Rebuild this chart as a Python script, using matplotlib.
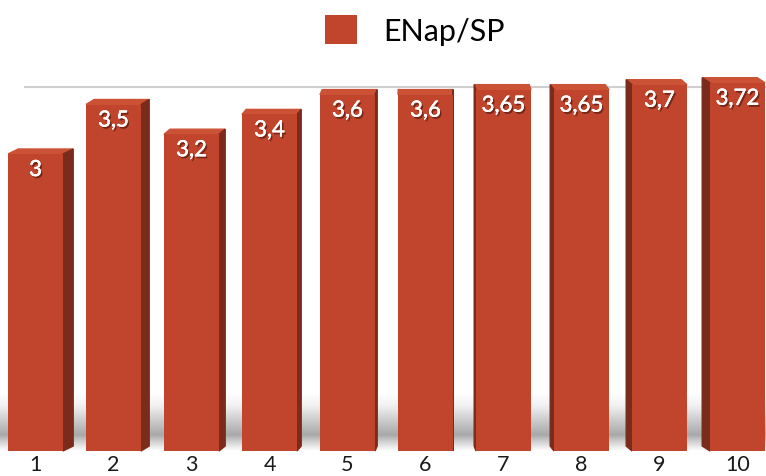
import matplotlib.patheffects as pe
import matplotlib.pyplot as plt
import numpy as np
from matplotlib.patches import Polygon

plt.rcParams["font.family"] = ["Lato", "DejaVu Sans"]

categories = ["1", "2", "3", "4", "5", "6", "7", "8", "9", "10"]
values = [3.0, 3.5, 3.2, 3.4, 3.6, 3.6, 3.65, 3.65, 3.7, 3.72]
value_labels = ["3", "3,5", "3,2", "3,4", "3,6", "3,6", "3,65", "3,65", "3,7", "3,72"]
series_name = "ENap/SP"

front_color = "#c1452c"
side_color = "#7b2b1b"
top_color = "#cc5236"

fig = plt.figure(figsize=(7.66, 4.77), dpi=100)
ax = fig.add_axes([0, 25 / 477, 1, 396 / 477])

x = np.arange(len(categories))
ax.set_xlim(-35.5 / 78, (766 - 35.5) / 78)
ax.set_ylim(0, 4)

# pixel -> data conversion for the fake 3d faces
px_x = 1 / 78
px_y = 1 / 99

# floor shadow behind the bars
stops_v = [0.0, 0.05, 0.1, 0.16, 0.3, 0.45, 0.58]
stops_g = [1.0, 0.9, 0.8, 0.66, 0.79, 0.94, 1.0]
vv = np.linspace(0, 0.6, 200)
gray = np.interp(vv, stops_v, stops_g)
img = np.repeat(gray[:, None], 2, axis=1)
ax.imshow(img, cmap="gray", vmin=0, vmax=1, origin="lower", aspect="auto",
          extent=[ax.get_xlim()[0], ax.get_xlim()[1], 0, 0.6], zorder=0,
          interpolation="bilinear")

# back wall top line
ax.axhline(3.68, xmin=25 / 766, xmax=1, color="#cfcfcf", lw=1.5, zorder=1)

width = 55 / 78
bars = ax.bar(x, values, width=width, color=front_color, zorder=3,
              clip_on=False, label=series_name)

label_fx = [pe.withSimplePatchShadow(offset=(1.2, -1.5), shadow_rgbFace="#3a1008",
                                     alpha=0.6),
            pe.withStroke(linewidth=0.25, foreground="white")]

for i, (xi, v, lab) in enumerate(zip(x, values, value_labels)):
    dx = -(i - 5.1) * 2.0 * px_x
    dy = 5 * px_y
    xl, xr = xi - width / 2, xi + width / 2
    top = [(xl, v), (xr, v), (xr + dx, v + dy), (xl + dx, v + dy)]
    ax.add_patch(Polygon(top, closed=True, color=top_color, zorder=2,
                         clip_on=False))
    edge = xr if dx > 0 else xl
    side = [(edge, 0), (edge, v), (edge + dx, v + dy), (edge + dx, dy)]
    ax.add_patch(Polygon(side, closed=True, color=side_color, zorder=2,
                         clip_on=False))
    ax.text(xi, v - 16 * px_y, lab, ha="center", va="center", color="white",
            fontsize=16, zorder=5, clip_on=False, path_effects=label_fx)

ax.set_xticks(x)
ax.set_xticklabels(categories, fontsize=15.5, color="#1a1a1a")
ax.tick_params(axis="x", length=0, pad=2)
ax.set_yticks([])
for s in ax.spines.values():
    s.set_visible(False)

fig.legend(handles=[bars], labels=[series_name], loc="center",
           bbox_to_anchor=(0.542, 0.935), frameon=False, fontsize=22,
           handlelength=1.05, handleheight=1.05, handletextpad=0.85)

fig.savefig("out.png", dpi=100)
